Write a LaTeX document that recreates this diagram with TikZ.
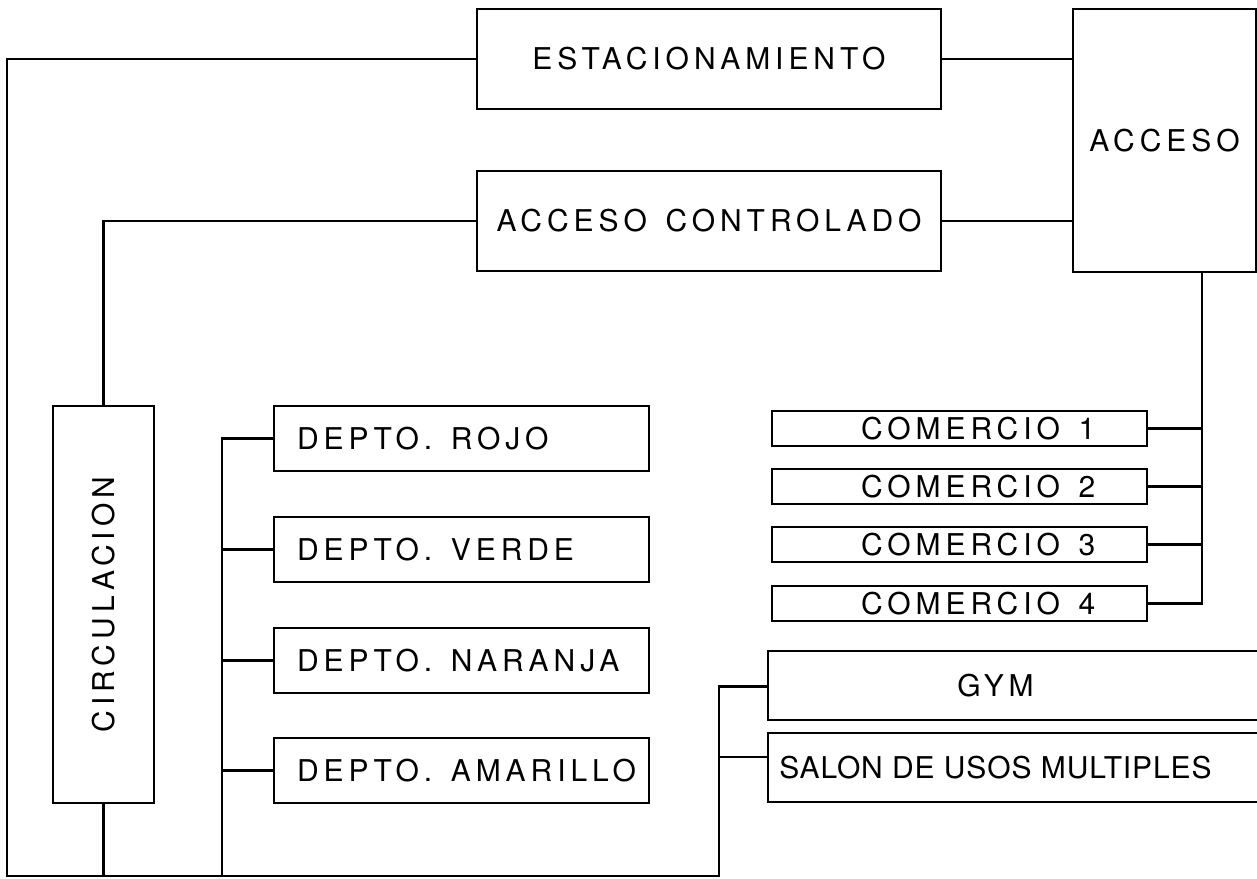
\documentclass[tikz,border=0pt]{standalone}
\usepackage{fontspec}
\setmainfont{TeX Gyre Heros}[LetterSpace=16.5,WordSpace=1.4]
\newfontfamily\salonfont{TeX Gyre Heros}[LetterSpace=3]
\begin{document}
\begin{tikzpicture}[x=1pt,y=-1pt, line width=2.8pt,
  box/.style={draw, rectangle, inner sep=0pt, font=\fontsize{30pt}{36pt}\selectfont},
  lbox/.style={box, minimum width=375pt}]
\useasboundingbox[fill=white] (0,0) rectangle (1257,878);
% boxes
\node[box, minimum width=464pt, minimum height=100pt] (estac) at (709,59) {ESTACIONAMIENTO};
\node[box, minimum width=464pt, minimum height=100pt] (ctrl) at (709,221) {ACCESO CONTROLADO};
\node[box, minimum width=183pt, minimum height=263pt] (acceso) at (1164.5,140.5) {ACCESO};
\node[box, rotate=90, minimum width=397pt, minimum height=101pt] (circ) at (103.5,604.5) {CIRCULACION};
\node[lbox, minimum height=65pt] (rojo) at (461.5,438.5) {\makebox[375pt][l]{\hspace{23pt}DEPTO. ROJO}};
\node[lbox, minimum height=65pt] (verde) at (461.5,549.5) {\makebox[375pt][l]{\hspace{23pt}DEPTO. VERDE}};
\node[lbox, minimum height=65pt] (naranja) at (461.5,660.5) {\makebox[375pt][l]{\hspace{23pt}DEPTO. NARANJA}};
\node[lbox, minimum height=65pt] (amarillo) at (461.5,770.5) {\makebox[375pt][l]{\hspace{23pt}DEPTO. AMARILLO}};
\node[lbox, minimum height=35pt] (c1) at (959.5,428.5) {\makebox[375pt][l]{\hspace{89pt}COMERCIO 1}};
\node[lbox, minimum height=35pt] (c2) at (959.5,486.5) {\makebox[375pt][l]{\hspace{89pt}COMERCIO 2}};
\node[lbox, minimum height=35pt] (c3) at (959.5,544.5) {\makebox[375pt][l]{\hspace{89pt}COMERCIO 3}};
\node[lbox, minimum height=35pt] (c4) at (959.5,603.5) {\makebox[375pt][l]{\hspace{89pt}COMERCIO 4}};
\node[box, minimum width=512pt, minimum height=69pt] (gym) at (1024,685.5) {GYM\rule{57pt}{0pt}};
\node[box, minimum width=512pt, minimum height=69pt, font={\salonfont\fontsize{30pt}{36pt}\selectfont}] (salon) at (1024,767.5) {SALON DE USOS MULTIPLES\rule{57pt}{0pt}};
% coordinates for free corners
\coordinate (tl) at (7,59);
\coordinate (bl) at (7,876);
\coordinate (bg) at (719,876);
\coordinate (bd) at (222,876);
\coordinate (bc) at (1202,603.5);
% connectors
\draw (estac.west) -- (tl) -- (bl) -- (bg) |- ([yshift=-1pt]gym.west);
\draw ([yshift=10.5pt]salon.west) -- ([yshift=10.5pt]salon.west -| bg);
\draw (estac.east) -- (estac.east -| acceso.west);
\draw (ctrl.east) -- (ctrl.east -| acceso.west);
\draw (ctrl.west) -| (circ.east);
\draw (circ.west) -- (circ.west |- bl);
\draw (bd) |- (rojo.west);
\draw (verde.west) -- (verde.west -| bd);
\draw (naranja.west) -- (naranja.west -| bd);
\draw (amarillo.west) -- (amarillo.west -| bd);
\draw (acceso.south -| bc) -- (bc) -- (c4.east);
\draw (c1.east) -- (c1.east -| bc);
\draw (c2.east) -- (c2.east -| bc);
\draw (c3.east) -- (c3.east -| bc);
\end{tikzpicture}
\end{document}
